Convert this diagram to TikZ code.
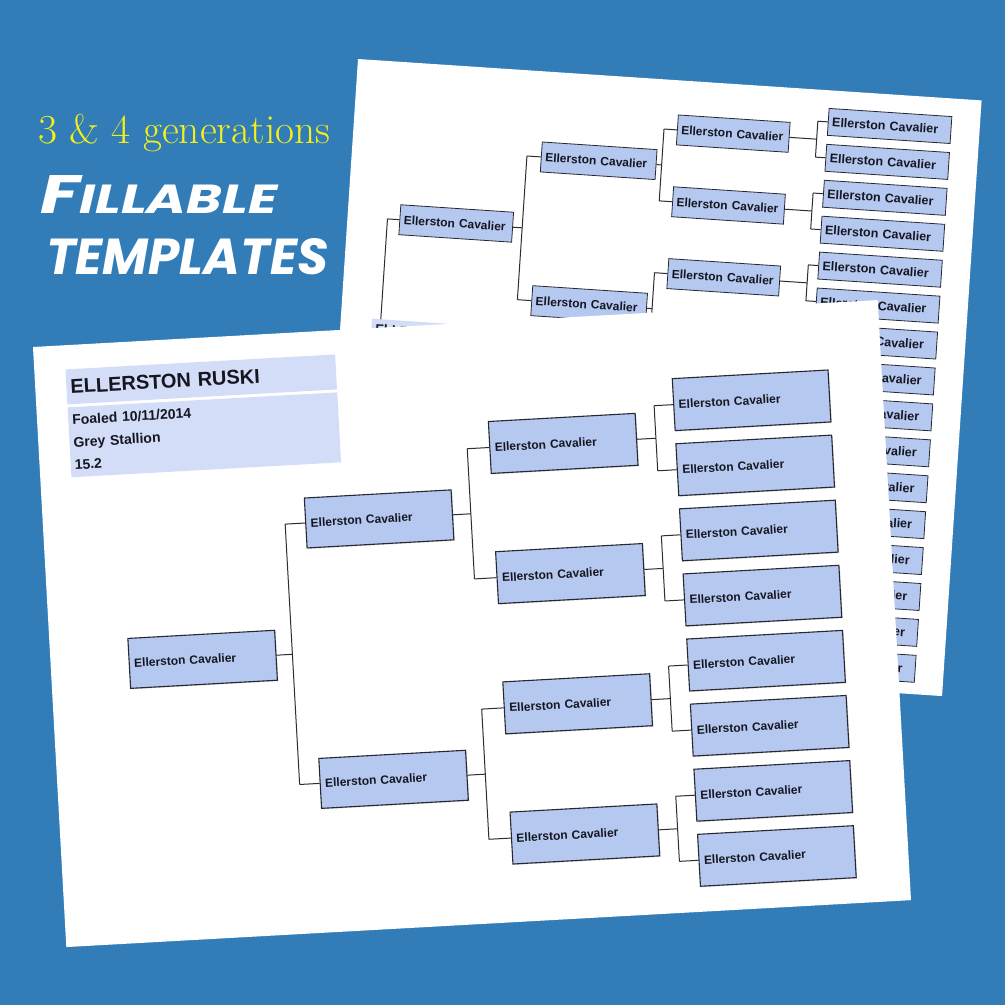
\documentclass[tikz,border=0pt]{standalone}
\usepackage{fontspec}
\newfontfamily\arial{Liberation Sans}
\newfontfamily\brush{Poppins}
\usetikzlibrary{calc,shadows}
\definecolor{bg}{RGB}{50,125,184}
\definecolor{boxfill}{RGB}{181,200,240}
\definecolor{hdrfill}{RGB}{211,221,248}
\definecolor{ink}{RGB}{22,22,32}
\definecolor{edge}{RGB}{40,40,50}
\definecolor{linec}{RGB}{45,45,50}
\definecolor{ylw}{RGB}{245,240,25}
\newcommand\pedlink[4]{%
  \draw[link] (#2.west) -- ++(-#4,0) coordinate (#1-ja);
  \draw[link] (#3.west) -- ++(-#4,0) coordinate (#1-jb);
  \draw[link] (#1-ja) -- (#1-jb);
  \draw[link] (#1.east) -- ($(#1-ja)!.5!(#1-jb)$);}
\begin{document}
\begin{tikzpicture}[x=1pt,y=-1pt,
  link/.style={draw=linec, line width=1pt},
  fbase/.style={draw=edge, line width=1.1pt, fill=boxfill, anchor=north west, inner xsep=5pt, inner ysep=0pt, align=left, text=ink, font=\arial\bfseries\fontsize{12}{14}\selectfont, drop shadow={shadow xshift=1pt,shadow yshift=-1pt,opacity=.3}},
  fa/.style={fbase, text width=137pt, minimum height=50pt},
  fb/.style={fbase, text width=137pt, minimum height=52pt},
  fc/.style={fbase, text width=146pt, minimum height=52pt},
  bbase/.style={draw=edge, line width=.8pt, fill=boxfill, anchor=north west, inner xsep=4pt, inner ysep=0pt, align=left, text=ink, font=\arial\bfseries\fontsize{12}{14}\selectfont},
  bA/.style={bbase, text width=105pt, minimum height=30pt},
  bB/.style={bbase, text width=107pt, minimum height=30pt},
  bC/.style={bbase, text width=104pt, minimum height=30pt},
  bD/.style={bbase, text width=115pt, minimum height=27pt, font=\arial\bfseries\fontsize{12.5}{14}\selectfont},
  hdr/.style={fill=hdrfill, anchor=north west, inner xsep=4pt, inner ysep=0pt, align=left, text=ink}
]
\useasboundingbox (0,0) rectangle (1005,1005);
\fill[bg] (0,0) rectangle (1005,1005);

% ---------- back page (its lower left part lies under the front page) ----------
\begin{scope}[shift={(358,59)}, rotate=-3.8, every node/.append style={transform shape}]
  \fill[white] (0,0) rectangle (625,597);
  \foreach \k in {0,...,15} \node[bD] (bD\k) at (473,{17.7+36*\k}) {Ellerston Cavalier};
  \foreach \k in {0,1,2} \node[bC] (bC\k) at (323,{34.2+72*\k}) {Ellerston Cavalier};
  \foreach \k in {3,...,7} \node[bC] (bC\k) at (323,{34.2+72*\k}) {};
  \foreach \k in {0,1} \node[bB] (bB\k) at (189,{70.2+144*\k}) {Ellerston Cavalier};
  \foreach \k in {2,3} \node[bB] (bB\k) at (189,{70.2+144*\k}) {};
  \node[bA] (bA0) at (52,142.2) {Ellerston Cavalier};
  \node[bA] (bA1) at (52,430.2) {};
  \foreach \j [evaluate=\j as \a using int(2*\j), evaluate=\j as \b using int(2*\j+1)] in {0,...,7}
    {\pedlink{bC\j}{bD\a}{bD\b}{10}}
  \foreach \j [evaluate=\j as \a using int(2*\j), evaluate=\j as \b using int(2*\j+1)] in {0,...,3}
    {\pedlink{bB\j}{bC\a}{bC\b}{13}}
  \foreach \j [evaluate=\j as \a using int(2*\j), evaluate=\j as \b using int(2*\j+1)] in {0,1}
    {\pedlink{bA\j}{bB\a}{bB\b}{14}}
  \draw[link] (bA0.west) -- ++(-12,0) coordinate (bR-ja);
  \draw[link] (bA1.west) -- ++(-12,0) coordinate (bR-jb);
  \draw[link] (bR-ja) -- (bR-jb);
  \node[hdr, text width=262pt, minimum height=20pt, font=\arial\bfseries\fontsize{13}{15}\selectfont] (bR) at (31,258) {ELLERSTON RUSKI};
\end{scope}

% ---------- front page ----------
\begin{scope}[shift={(33,347)}, rotate=3.18, every node/.append style={transform shape}]
  \fill[white] (0,0) rectangle (846,601);
  \node[hdr, text width=262pt, minimum height=35pt, font=\arial\bfseries\fontsize{20}{24}\selectfont] (fhT) at (31,24) {ELLERSTON RUSKI};
  \node[hdr, text width=262pt, minimum height=70pt, font=\arial\bfseries\fontsize{14}{22.5}\selectfont] (fhB) at (31,62) {Foaled 10/11/2014\\Grey Stallion\\15.2};
  \foreach \k in {0,...,7} \node[fc] (fC\k) at (636,{66.5+65.2*\k}) {Ellerston Cavalier};
  \foreach \k in {0,...,3} \node[fb] (fB\k) at (450,{99.1+130.4*\k}) {Ellerston Cavalier};
  \node[fa] (fA0) at (262,165.3) {Ellerston Cavalier};
  \node[fa] (fA1) at (262,426.1) {Ellerston Cavalier};
  \node[fa] (fR) at (78,295.7) {Ellerston Cavalier};
  \foreach \j [evaluate=\j as \a using int(2*\j), evaluate=\j as \b using int(2*\j+1)] in {0,...,3}
    {\pedlink{fB\j}{fC\a}{fC\b}{19}}
  \pedlink{fA0}{fB0}{fB1}{22}
  \pedlink{fA1}{fB2}{fB3}{22}
  \pedlink{fR}{fA0}{fA1}{20}
\end{scope}

% ---------- titles ----------
\node[anchor=base west, inner sep=0pt, text=ylw] (t1) at (38,143)
  {\resizebox{292pt}{!}{\fontsize{36}{40}\selectfont 3 \& 4 generations}};
\node[anchor=base west, inner sep=0pt, text=white] (t2) at (40,213)
  {\resizebox{237pt}{38pt}{\brush\bfseries\itshape{\fontsize{40}{40}\selectfont F}\fontsize{30}{30}\selectfont ILLABLE}};
\node[anchor=base west, inner sep=0pt, text=white] (t3) at (46,274)
  {\resizebox{282pt}{36pt}{\brush\bfseries\itshape\fontsize{30}{30}\selectfont TEMPLATES}};
\end{tikzpicture}
\end{document}
